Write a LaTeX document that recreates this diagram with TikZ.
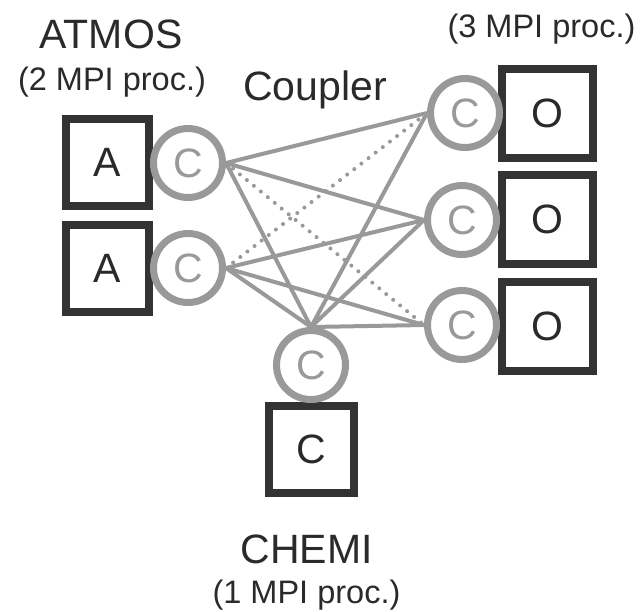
\documentclass[tikz,border=0pt]{standalone}
\usepackage{fontspec}
\setmainfont{Liberation Sans}
\definecolor{boxc}{HTML}{333333}
\definecolor{cplc}{HTML}{999999}
\definecolor{txtc}{HTML}{2A2A2A}
\begin{document}
\begin{tikzpicture}[x=1pt,y=-1pt,
  compbox/.style={draw=boxc,line width=8pt,fill=white,inner sep=0pt,text=txtc,font=\fontsize{41}{44}\selectfont},
  cpl/.style={circle,draw=cplc,line width=7pt,fill=white,minimum size=69pt,inner sep=0pt,text=cplc,font=\fontsize{41}{44}\selectfont},
  link/.style={draw=cplc,line width=4pt},
  dlink/.style={draw=cplc,line width=4pt,line cap=round,dash pattern=on 0pt off 9pt},
  big/.style={text=txtc,font=\fontsize{41}{44}\selectfont,anchor=base,inner sep=0pt},
  small/.style={text=txtc,font=\fontsize{32.5}{34}\selectfont,anchor=base,inner sep=0pt}]
\useasboundingbox (0,0) rectangle (644,611);
% boxes
\node[compbox,minimum width=83pt,minimum height=87pt] (a1) at (107.5,162.5) {A};
\node[compbox,minimum width=83pt,minimum height=87pt] (a2) at (107.5,268) {A};
\node[compbox,minimum width=91pt,minimum height=89pt] (o1) at (547.5,113) {O};
\node[compbox,minimum width=91pt,minimum height=89pt] (o2) at (547.5,219.5) {O};
\node[compbox,minimum width=91pt,minimum height=89pt] (o3) at (547.5,326.5) {O};
\node[compbox,minimum width=85pt,minimum height=87pt] (ch) at (311.5,449.5) {C};
% coupler circles
\node[cpl] (ca1) at (188,163) {C};
\node[cpl] (ca2) at (188,268) {C};
\node[cpl] (co1) at (465,113) {C};
\node[cpl] (co2) at (462,220) {C};
\node[cpl] (co3) at (462,325) {C};
\node[cpl] (cc) at (311,365) {C};
% links
\draw[link] (ca1.east) -- (co1.west);
\draw[link] (ca1.east) -- (co2.west);
\draw[link] (ca1.east) -- (cc.north);
\draw[dlink] (ca1.east) -- (co3.west);
\draw[dlink] (ca2.east) -- (co1.west);
\draw[link] (ca2.east) -- (co2.west);
\draw[link] (ca2.east) -- (co3.west);
\draw[link] (ca2.east) -- (cc.north);
\draw[link] (cc.north) -- (co1.west);
\draw[link] (cc.north) -- (co2.west);
\draw[link] (cc.north) -- (co3.west);
% labels
\node[big] (tatm) at (111,48) {ATMOS};
\node[small] (patm) at (112,90) {(2 MPI proc.)};
\node[big] (tcpl) at (315,100) {Coupler};
\node[small] (poce) at (541.5,37) {(3 MPI proc.)};
\node[big] (tche) at (306.5,563) {CHEMI};
\node[small] (pche) at (306.5,603) {(1 MPI proc.)};
\end{tikzpicture}
\end{document}
